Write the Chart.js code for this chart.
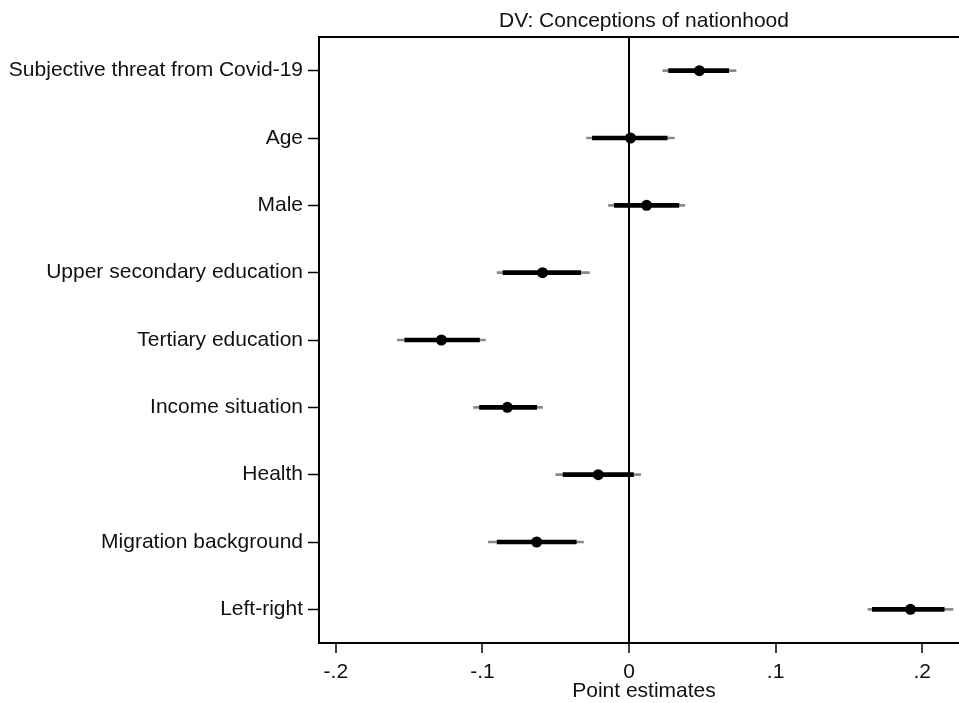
<!DOCTYPE html>
<html lang="en">
<head>
  <meta charset="UTF-8">
  <title>DV: Conceptions of nationhood</title>
  <script src="https://cdn.jsdelivr.net/npm/chart.js"></script>
  <style>
    body {
      margin: 0;
      background: #ffffff;
      overflow: hidden;
    }

    .chart-container {
      position: relative;
      width: 959px;
      height: 703px;
    }
  </style>
</head>
<body>
  <div class="chart-container">
    <canvas id="coefChart"></canvas>
  </div>

  <script>
    // Data
    const categories = [
      'Subjective threat from Covid-19', 'Age', 'Male', 'Upper secondary education',
      'Tertiary education', 'Income situation', 'Health', 'Migration background', 'Left-right'
    ];
    const estimates = [0.048, 0.001, 0.012, -0.059, -0.128, -0.083, -0.021, -0.063, 0.192];
    const innerLow  = [0.027, -0.025, -0.010, -0.086, -0.153, -0.102, -0.045, -0.090, 0.166];
    const innerHigh = [0.068, 0.026, 0.034, -0.033, -0.102, -0.063, 0.003, -0.036, 0.215];
    const outerLow  = [0.023, -0.029, -0.014, -0.090, -0.158, -0.106, -0.050, -0.096, 0.163];
    const outerHigh = [0.073, 0.031, 0.038, -0.027, -0.098, -0.059, 0.008, -0.031, 0.221];
    const xTicks = [-0.2, -0.1, 0, 0.1, 0.2];

    const chartTitle = 'DV: Conceptions of nationhood';
    const xTitle = 'Point estimates';
    const fontFamily = "'Liberation Sans', Arial, sans-serif";

    // Frame top line and titles
    const framePlugin = {
      id: 'frameAndTitles',
      afterDraw: (chart) => {
        const { ctx, chartArea } = chart;
        ctx.save();
        ctx.strokeStyle = '#000';
        ctx.lineWidth = 2;
        ctx.beginPath();
        ctx.moveTo(chartArea.left - 1, chartArea.top);
        ctx.lineTo(chartArea.right, chartArea.top);
        ctx.stroke();

        ctx.fillStyle = '#111';
        ctx.textAlign = 'center';
        ctx.textBaseline = 'middle';
        ctx.font = '21px ' + fontFamily;
        ctx.fillText(chartTitle, chartArea.left + 325, 21);
        ctx.fillText(xTitle, chartArea.left + 325, 691);
        ctx.restore();
      },
    };

    const ctx = document.getElementById('coefChart').getContext('2d');
    const coefChart = new Chart(ctx, {
      type: 'bar',
      data: {
        labels: categories,
        datasets: [
          {
            type: 'line',
            data: estimates,
            showLine: false,
            pointRadius: 5.5,
            pointBackgroundColor: '#000',
            pointBorderWidth: 0,
            order: 0,
          },
          {
            data: categories.map((c, i) => [innerLow[i], innerHigh[i]]),
            backgroundColor: '#000',
            barThickness: 4,
            grouped: false,
            order: 1,
          },
          {
            data: categories.map((c, i) => [outerLow[i], outerHigh[i]]),
            backgroundColor: '#8a8a8a',
            barThickness: 2,
            grouped: false,
            order: 2,
          },
        ],
      },
      options: {
        indexAxis: 'y',
        responsive: true,
        maintainAspectRatio: false,
        animation: false,
        layout: {
          autoPadding: false,
          padding: { top: 37, left: 0, right: 0, bottom: 0 },
        },
        plugins: {
          legend: { display: false },
          tooltip: { enabled: false },
        },
        scales: {
          x: {
            type: 'linear',
            min: -0.2115,
            max: 0.2251,
            afterBuildTicks: (scale) => {
              scale.ticks = xTicks.map(v => ({ value: v }));
            },
            afterFit: (scale) => {
              scale.height = 60;
              scale.paddingLeft = 0;
              scale.paddingRight = 0;
            },
            ticks: {
              color: '#111',
              padding: 7,
              font: { family: fontFamily, size: 21 },
              callback: (v) => {
                const r = Math.round(v * 10) / 10;
                return r === 0 ? '0' : String(r).replace('0.', '.');
              },
            },
            grid: {
              color: (c) => (c.tick && c.tick.value === 0 ? '#000' : 'rgba(0,0,0,0)'),
              lineWidth: 2,
              tickColor: '#000',
              tickLength: 10,
              tickWidth: 1.5,
            },
            border: { display: true, color: '#000', width: 2 },
          },
          y: {
            type: 'category',
            offset: true,
            afterFit: (scale) => {
              scale.width = 319;
            },
            ticks: {
              color: '#111',
              padding: 5,
              font: { family: fontFamily, size: 21 },
            },
            grid: {
              offset: false,
              drawOnChartArea: false,
              tickColor: '#000',
              tickLength: 11,
              tickWidth: 1.5,
            },
            border: { display: true, color: '#000', width: 2 },
          },
        },
      },
      plugins: [framePlugin],
    });
  </script>
</body>
</html>
